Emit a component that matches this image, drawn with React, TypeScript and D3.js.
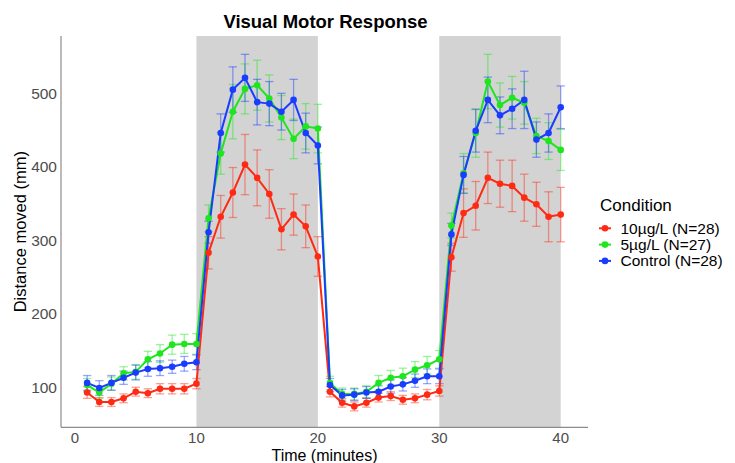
import React from "react";
import * as d3 from "d3";

const minutes = d3.range(1, 41);

const conditions = ["10µg/L (N=28)", "5µg/L (N=27)", "Control (N=28)"];
const colors = ["#FF2A14", "#1EE61E", "#1A3CFF"];

const redMean = [
  93, 80, 80, 85, 94, 92, 98, 98, 98, 105,
  283, 332, 365, 403, 385, 363, 315, 335, 319, 278,
  94, 79, 74, 79, 86, 88, 83, 85, 90, 95,
  277, 337, 347, 385, 377, 374, 358, 349, 332, 335,
];
const redErr = [
  8, 6, 6, 6, 6, 6, 7, 7, 7, 7,
  22, 29, 34, 41, 38, 33, 28, 28, 29, 27,
  7, 6, 6, 6, 6, 6, 6, 6, 7, 7,
  19, 33, 33, 35, 32, 35, 32, 30, 34, 37,
];
const greenMean = [
  103, 93, 105, 119, 121, 138, 146, 158, 159, 159,
  330, 418, 475, 506, 511, 493, 467, 438, 455, 452,
  106, 91, 91, 94, 106, 113, 115, 124, 130, 138,
  320, 391, 446, 516, 484, 494, 487, 442, 435, 423,
];
const greenErr = [
  9, 8, 9, 9, 10, 11, 12, 13, 13, 14,
  18, 28, 37, 34, 34, 32, 30, 27, 31, 33,
  9, 8, 8, 8, 10, 10, 11, 11, 12, 12,
  17, 27, 33, 37, 30, 29, 29, 24, 25, 28,
];
const blueMean = [
  106, 99, 106, 113, 120, 125, 126, 128, 132, 134,
  311, 446, 505, 521, 488, 486, 475, 491, 446, 429,
  103, 89, 90, 93, 94, 101, 104, 109, 115, 115,
  308, 389, 449, 491, 470, 479, 491, 437, 446, 481,
];
const blueErr = [
  10, 10, 10, 9, 10, 10, 10, 9, 10, 10,
  15, 26, 31, 32, 31, 30, 25, 28, 27, 25,
  9, 8, 8, 8, 8, 9, 9, 9, 10, 10,
  15, 25, 29, 31, 25, 27, 39, 24, 26, 29,
];

const shadedPeriods = [
  [10, 20],
  [30, 40],
];
const xTicks = [0, 10, 20, 30, 40];
const yTicks = [100, 200, 300, 400, 500];

const W = 735;
const H = 463;
const panelLeft = 61;
const panelRight = 588;
const panelTop = 36;
const panelBottom = 427.3;

export default function App() {
  const x = d3.scaleLinear().domain([0, 40]).range([75, 560.7]);
  const y = d3.scaleLinear().domain([100, 500]).range([387.3, 93.3]);

  const series = [
    { mean: redMean, err: redErr },
    { mean: greenMean, err: greenErr },
    { mean: blueMean, err: blueErr },
  ].map((s, i) => ({
    ...s,
    name: conditions[i],
    color: colors[i],
    pts: minutes.map((m, j) => ({ m, v: s.mean[j], e: s.err[j] })),
  }));

  const line = d3
    .line<{ m: number; v: number }>()
    .x((d) => x(d.m))
    .y((d) => y(d.v));

  const capHalf = 4.2;
  const font = "'Liberation Sans', Arial, Helvetica, sans-serif";

  return (
    <svg
      width={W}
      height={H}
      style={{ position: "absolute", left: 0, top: 0, background: "#fff" }}
      fontFamily={font}
    >
      {shadedPeriods.map(([a, b], i) => (
        <rect
          key={i}
          x={x(a)}
          y={panelTop}
          width={x(b) - x(a)}
          height={panelBottom - panelTop}
          fill="#D3D3D3"
        />
      ))}

      {series.map((s, i) => (
        <g key={"e" + i} stroke={s.color} strokeOpacity={0.45} strokeWidth={1.3}>
          {s.pts.map((p, j) => (
            <g key={j}>
              <line x1={x(p.m)} x2={x(p.m)} y1={y(p.v - p.e)} y2={y(p.v + p.e)} />
              <line x1={x(p.m) - capHalf} x2={x(p.m) + capHalf} y1={y(p.v - p.e)} y2={y(p.v - p.e)} />
              <line x1={x(p.m) - capHalf} x2={x(p.m) + capHalf} y1={y(p.v + p.e)} y2={y(p.v + p.e)} />
            </g>
          ))}
        </g>
      ))}

      {series.map((s, i) => (
        <path key={"l" + i} d={line(s.pts) || ""} fill="none" stroke={s.color} strokeWidth={2} />
      ))}
      {series.map((s, i) => (
        <g key={"p" + i} fill={s.color}>
          {s.pts.map((p, j) => (
            <circle key={j} cx={x(p.m)} cy={y(p.v)} r={3.3} />
          ))}
        </g>
      ))}

      {/* axes */}
      <line x1={panelLeft} x2={panelLeft} y1={panelTop} y2={panelBottom} stroke="#8C8C8C" strokeWidth={1.2} />
      <line x1={panelLeft} x2={panelRight} y1={panelBottom} y2={panelBottom} stroke="#8C8C8C" strokeWidth={1.2} />

      {yTicks.map((t) => (
        <text
          key={t}
          x={57}
          y={y(t)}
          dy="0.36em"
          textAnchor="end"
          fontSize={15.5}
          fill="#4D4D4D"
        >
          {t}
        </text>
      ))}
      {xTicks.map((t) => (
        <text key={t} x={x(t)} y={437.5} dy="0.36em" textAnchor="middle" fontSize={15} fill="#4D4D4D">
          {t}
        </text>
      ))}

      <text x={324.5} y={455} dy="0.36em" textAnchor="middle" fontSize={16} fill="#000">
        Time (minutes)
      </text>
      <text
        transform={`translate(20,${(panelTop + panelBottom) / 2}) rotate(-90)`}
        dy="0.36em"
        textAnchor="middle"
        fontSize={16.5}
        fill="#000"
      >
        Distance moved (mm)
      </text>

      <text x={325.5} y={21.5} dy="0.36em" textAnchor="middle" fontSize={18.5} fontWeight="bold" fill="#000">
        Visual Motor Response
      </text>

      {/* legend */}
      <text x={600} y={204.5} dy="0.36em" fontSize={17} fill="#000">
        Condition
      </text>
      {series.map((s, i) => {
        const ly = 228.3 + i * 16.3;
        return (
          <g key={"lg" + i}>
            <line x1={599} x2={611} y1={ly} y2={ly} stroke={s.color} strokeWidth={2} />
            <circle cx={605} cy={ly} r={3.3} fill={s.color} />
            <text x={620.5} y={ly} dy="0.36em" fontSize={15.5} fill="#000">
              {s.name}
            </text>
          </g>
        );
      })}
    </svg>
  );
}
